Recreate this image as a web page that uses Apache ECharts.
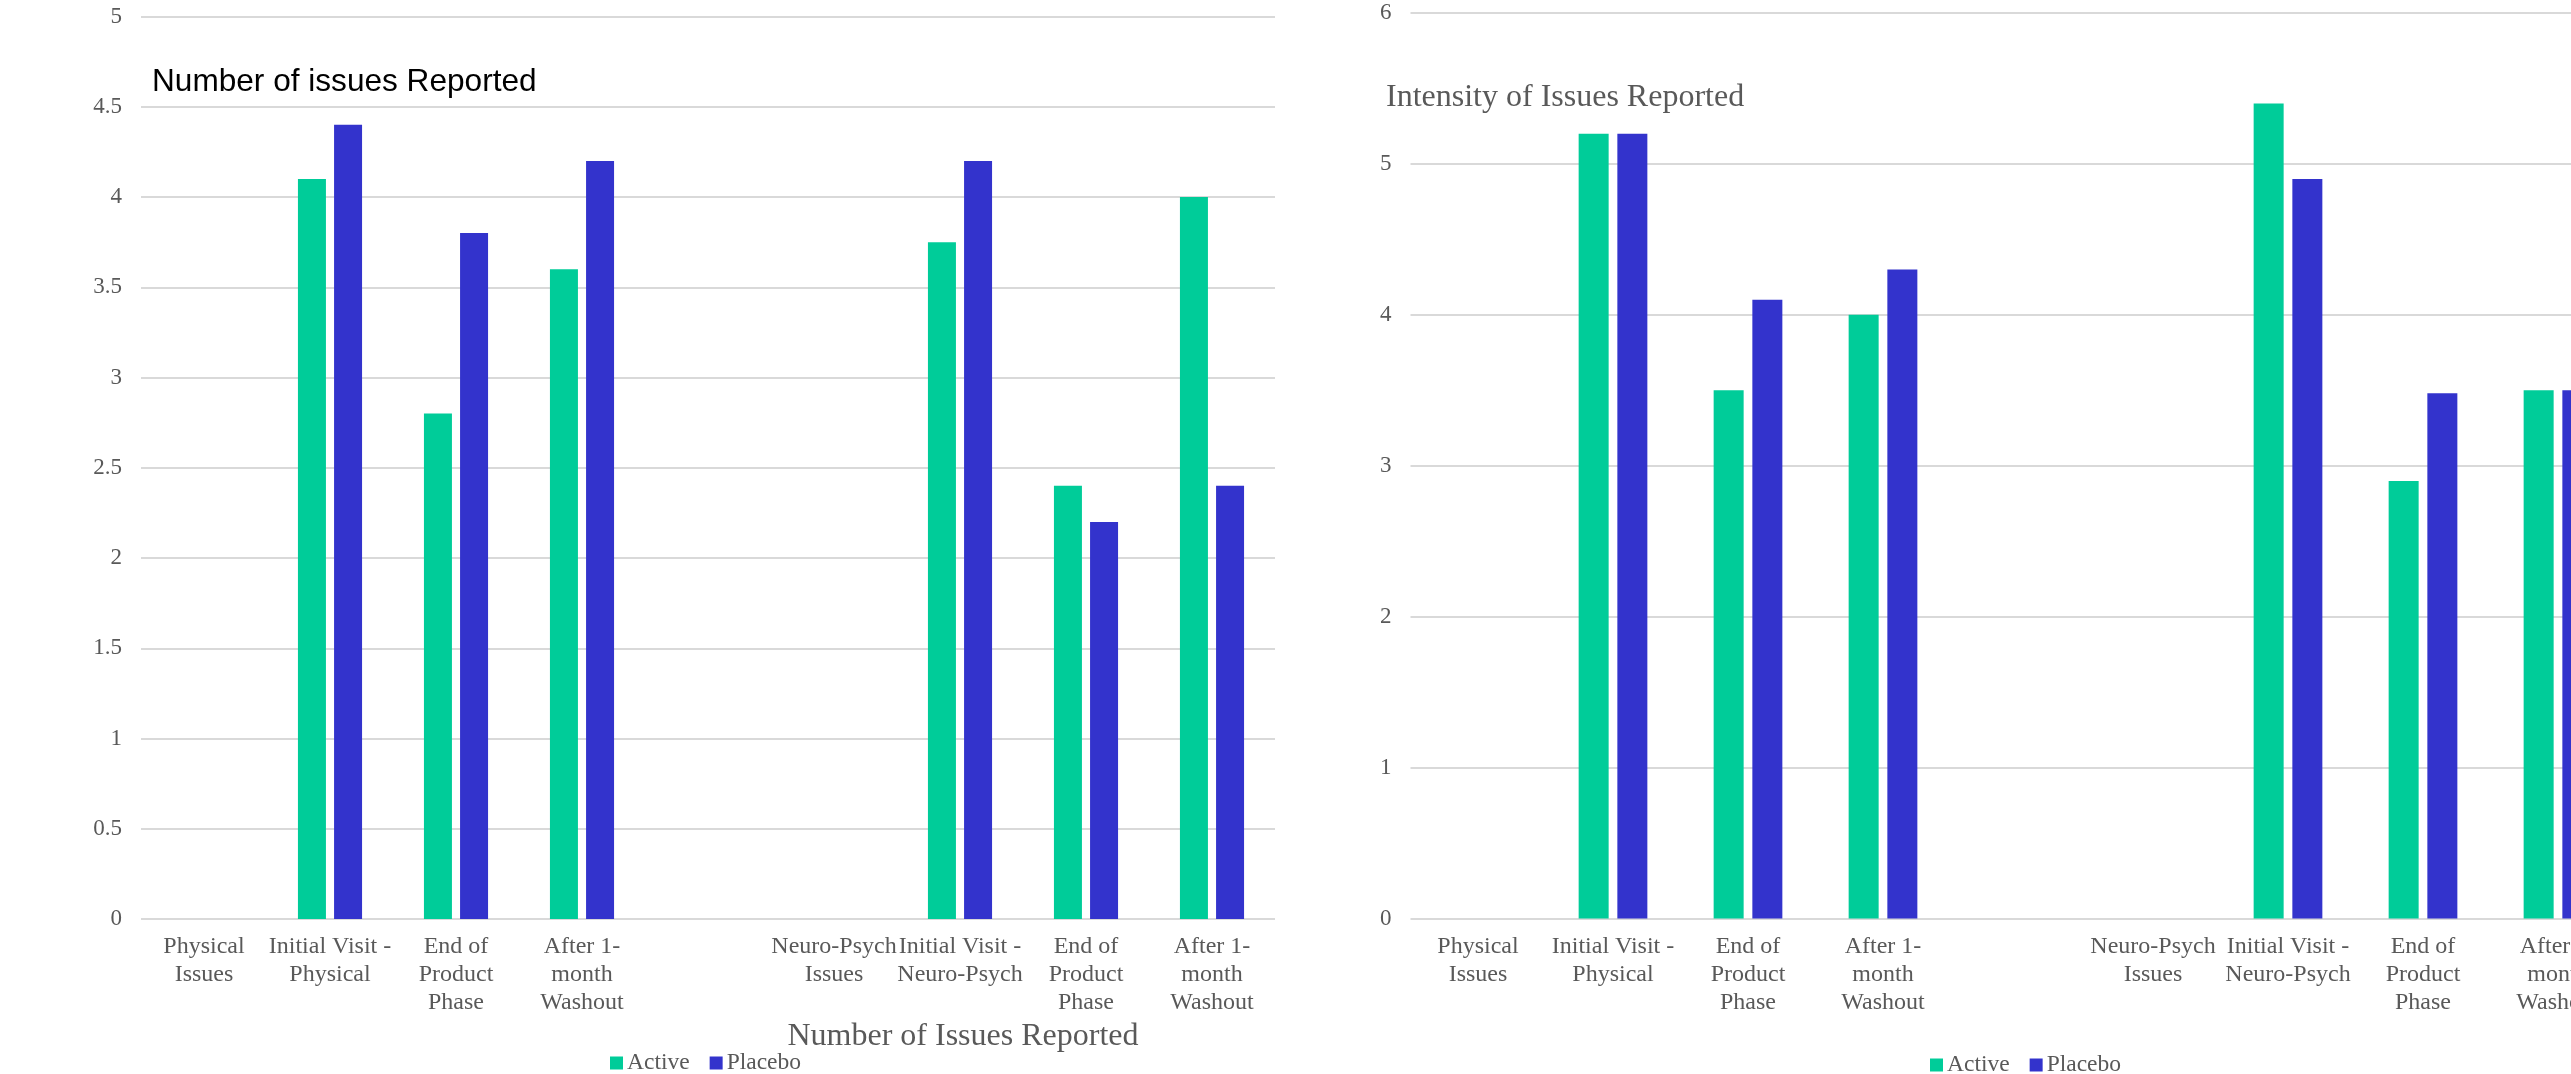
<!DOCTYPE html>
<html>
<head>
<meta charset="utf-8">
<script src="https://cdn.jsdelivr.net/npm/echarts@6/dist/echarts.min.js"></script>
<style>
html,body{margin:0;padding:0;background:#fff;}
#chart{width:2571px;height:1074px;}
</style>
</head>
<body>
<div id="chart"></div>
<script>
// ---- data ----
const categoryKeys = [
  'Physical Issues',
  'Initial Visit - Physical',
  'End of Product Phase (Physical)',
  'After 1-month Washout (Physical)',
  '(gap)',
  'Neuro-Psych Issues',
  'Initial Visit - Neuro-Psych',
  'End of Product Phase (Neuro-Psych)',
  'After 1-month Washout (Neuro-Psych)'
];
const tickLabels = [
  'Physical\nIssues',
  'Initial Visit -\nPhysical',
  'End of\nProduct\nPhase',
  'After 1-\nmonth\nWashout',
  '',
  'Neuro-Psych\nIssues',
  'Initial Visit -\nNeuro-Psych',
  'End of\nProduct\nPhase',
  'After 1-\nmonth\nWashout'
];
const seriesNames = ['Active', 'Placebo'];
const countActive   = [null, 4.1, 2.8, 3.6, null, null, 3.75, 2.4, 4.0];
const countPlacebo  = [null, 4.4, 3.8, 4.2, null, null, 4.2, 2.2, 2.4];
const intensityActive  = [null, 5.2, 3.5, 4.0, null, null, 5.4, 2.9, 3.5];
const intensityPlacebo = [null, 5.2, 4.1, 4.3, null, null, 4.9, 3.48, 3.5];
const countAxisTicks = [0, 0.5, 1, 1.5, 2, 2.5, 3, 3.5, 4, 4.5, 5];
const intensityAxisTicks = [0, 1, 2, 3, 4, 5, 6];
const titleCount = 'Number of issues Reported';
const titleIntensity = 'Intensity of Issues Reported';
const axisNameCount = 'Number of Issues Reported';

// ---- styles ----
const GREEN = '#00CC99';
const BLUE = '#3333CC';
const GRID = '#D9D9D9';
const TEXT = '#595959';
const SERIF = '"Liberation Serif", "Times New Roman", serif';
const SANS = '"Liberation Sans", Arial, sans-serif';

function xAxis(gridIndex) {
  return {
    type: 'category',
    gridIndex: gridIndex,
    data: categoryKeys,
    axisLine: { show: false },
    axisTick: { show: false },
    axisLabel: {
      interval: 0,
      margin: 14,
      color: TEXT,
      fontFamily: SERIF,
      fontSize: 24,
      lineHeight: 28,
      hideOverlap: false,
      formatter: function (v, i) { return tickLabels[i]; }
    }
  };
}
function yAxis(gridIndex, ticks) {
  return {
    type: 'value',
    gridIndex: gridIndex,
    min: ticks[0],
    max: ticks[ticks.length - 1],
    interval: ticks[1] - ticks[0],
    axisLine: { show: false },
    axisTick: { show: false },
    splitLine: { show: true, lineStyle: { color: GRID, width: 2 } },
    axisLabel: { color: TEXT, fontFamily: SERIF, fontSize: 23, margin: 19 }
  };
}
function bar(name, data, idx, color, width) {
  return {
    name: name,
    type: 'bar',
    xAxisIndex: idx,
    yAxisIndex: idx,
    data: data,
    barWidth: width,
    barGap: '29%',
    itemStyle: { color: color },
    emphasis: { disabled: true }
  };
}

const chart = echarts.init(document.getElementById('chart'), null, { renderer: 'canvas', width: 2571, height: 1074 });
chart.setOption({
  backgroundColor: '#ffffff',
  animation: false,
  title: [
    { text: titleCount, left: 152, top: 66, padding: 0,
      textStyle: { color: '#000000', fontFamily: SANS, fontSize: 31.6, fontWeight: 'normal' } },
    { text: titleIntensity, left: 1386, top: 82, padding: 0,
      textStyle: { color: TEXT, fontFamily: SERIF, fontSize: 32, fontWeight: 'normal' } },
    { text: axisNameCount, left: 963, top: 1021, padding: 0, textAlign: 'center',
      textStyle: { color: TEXT, fontFamily: SERIF, fontSize: 32, fontWeight: 'normal' } }
  ],
  legend: [
    { data: seriesNames, left: 610, top: 1051, padding: 0, itemGap: 20,
      icon: 'rect', itemWidth: 13, itemHeight: 13,
      textStyle: { color: TEXT, fontFamily: SERIF, fontSize: 23.5, padding: [0, 0, 0, -1] } },
    { data: seriesNames, left: 1930, top: 1053, padding: 0, itemGap: 20,
      icon: 'rect', itemWidth: 13, itemHeight: 13,
      textStyle: { color: TEXT, fontFamily: SERIF, fontSize: 23.5, padding: [0, 0, 0, -1] } }
  ],
  grid: [
    { left: 141, right: 1296, top: 16.5, bottom: 155, containLabel: false, outerBoundsMode: 'none' },
    { left: 1410.5, right: -54.5, top: 13, bottom: 155.4, containLabel: false, outerBoundsMode: 'none' }
  ],
  xAxis: [xAxis(0), xAxis(1)],
  yAxis: [yAxis(0, countAxisTicks), yAxis(1, intensityAxisTicks)],
  series: [
    bar(seriesNames[0], countActive, 0, GREEN, 28),
    bar(seriesNames[1], countPlacebo, 0, BLUE, 28),
    bar(seriesNames[0], intensityActive, 1, GREEN, 30),
    bar(seriesNames[1], intensityPlacebo, 1, BLUE, 30)
  ]
});
</script>
</body>
</html>
